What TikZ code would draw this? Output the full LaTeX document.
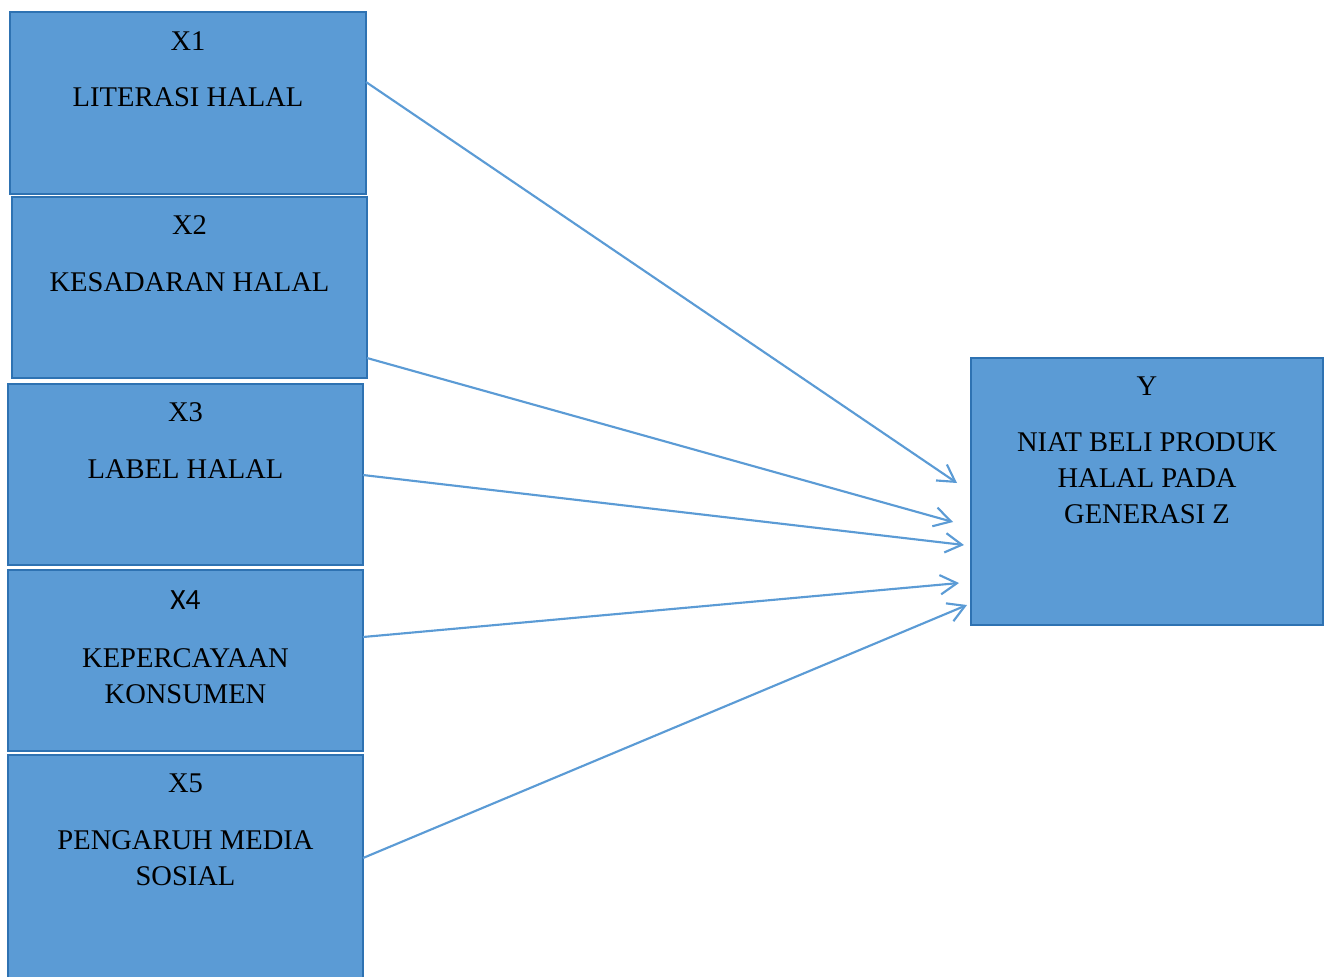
\documentclass[tikz,border=0pt]{standalone}
\usepackage{fontspec}
\setmainfont{Liberation Serif}
\newfontfamily\calibrifont{Carlito}
\usetikzlibrary{arrows.meta,calc}
\definecolor{boxfill}{HTML}{5B9BD5}
\definecolor{boxline}{HTML}{2E72B2}
\definecolor{arrowcol}{HTML}{5B9BD5}
\begin{document}
\begin{tikzpicture}[x=0.75pt,y=-0.75pt,
  box/.style={draw=boxline, line width=1.9pt, fill=boxfill, inner sep=0pt, outer sep=0pt, anchor=north west},
  lbl/.style={inner sep=0pt, align=center, text=black, font=\fontsize{21.4pt}{27pt}\selectfont},
  sanslbl/.style={inner sep=0pt, text=black, font=\calibrifont\fontsize{22pt}{26pt}\selectfont},
  link/.style={draw=arrowcol, line width=1.6pt, -{Straight Barb[length=12.5pt, width=14.5pt, line width=1.6pt]}}]
\useasboundingbox (0,0) rectangle (1330,976);
\clip (0,0) rectangle (1330,976);
% boxes
\node[box, minimum width=267pt, minimum height=136.5pt] (x1) at (10,12) {};
\node[box, minimum width=266.25pt, minimum height=135.75pt] (x2) at (12,197) {};
\node[box, minimum width=266.25pt, minimum height=135.75pt] (x3) at (8,384) {};
\node[box, minimum width=266.25pt, minimum height=135.75pt] (x4) at (8,570) {};
\node[box, minimum width=266.25pt, minimum height=183.75pt] (x5) at (8,755) {};
\node[box, minimum width=264pt, minimum height=200.25pt] (yb) at (971,358) {};
% labels
\node[lbl] (x1a) at ($(x1.north)+(0,29)$) {X1};
\node[lbl] (x1b) at ($(x1.north)+(0,85)$) {LITERASI HALAL};
\node[lbl] (x2a) at ($(x2.north)+(0,28)$) {X2};
\node[lbl] (x2b) at ($(x2.north)+(0,85)$) {KESADARAN HALAL};
\node[lbl] (x3a) at ($(x3.north)+(0,28)$) {X3};
\node[lbl] (x3b) at ($(x3.north)+(0,85)$) {LABEL HALAL};
\node[sanslbl] (x4a) at ($(x4.north)+(0,30)$) {X4};
\node[lbl] (x4b) at ($(x4.north)+(0,106)$) {KEPERCAYAAN\\KONSUMEN};
\node[lbl] (x5a) at ($(x5.north)+(0,28)$) {X5};
\node[lbl] (x5b) at ($(x5.north)+(0,103)$) {PENGARUH MEDIA\\SOSIAL};
\node[lbl] (ya) at ($(yb.north)+(0,28)$) {Y};
\node[lbl] (yt) at ($(yb.north)+(0,120)$) {NIAT BELI PRODUK\\HALAL PADA\\GENERASI Z};
% arrow end points
\coordinate (t1) at ($(yb.north west)+(-14,125)$);
\coordinate (t2) at ($(yb.north west)+(-18,164)$);
\coordinate (t3) at ($(yb.north west)+(-7,187)$);
\coordinate (t4) at ($(yb.north west)+(-12,225)$);
\coordinate (t5) at ($(yb.north west)+(-4,247)$);
% connectors
\draw[link] ($(x1.north east)+(0,70)$) -- (t1);
\draw[link] ($(x2.north east)+(0,161)$) -- (t2);
\draw[link] ($(x3.north east)+(0,91)$) -- (t3);
\draw[link] ($(x4.north east)+(0,67)$) -- (t4);
\draw[link] ($(x5.north east)+(0,103)$) -- (t5);
\end{tikzpicture}
\end{document}
